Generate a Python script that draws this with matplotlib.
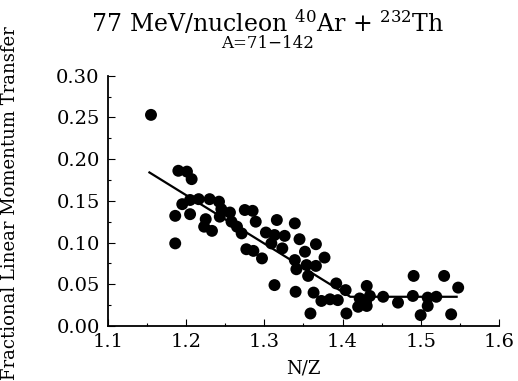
import matplotlib.pyplot as plt
from matplotlib.ticker import MultipleLocator, AutoMinorLocator

# N/Z and fractional linear momentum transfer
nz = [1.155, 1.190, 1.201, 1.207, 1.195, 1.205, 1.216, 1.186, 1.205, 1.186,
      1.230, 1.242, 1.245, 1.225, 1.223, 1.233, 1.243, 1.256, 1.258, 1.275,
      1.285, 1.289, 1.316, 1.339, 1.265, 1.271, 1.277, 1.286, 1.297, 1.302,
      1.313, 1.326, 1.309, 1.323, 1.345, 1.366, 1.352, 1.377, 1.339, 1.341,
      1.354, 1.366, 1.356, 1.313, 1.340, 1.363, 1.392, 1.404, 1.373, 1.384,
      1.394, 1.359, 1.405, 1.420, 1.431, 1.422, 1.430, 1.435, 1.431, 1.452,
      1.471, 1.491, 1.490, 1.509, 1.520, 1.509, 1.500, 1.530, 1.548, 1.539]
lmt = [0.253, 0.186, 0.185, 0.176, 0.146, 0.151, 0.152, 0.132, 0.134, 0.099,
       0.152, 0.149, 0.140, 0.128, 0.119, 0.114, 0.131, 0.136, 0.125, 0.139,
       0.138, 0.125, 0.127, 0.123, 0.119, 0.111, 0.092, 0.090, 0.081, 0.112,
       0.109, 0.108, 0.099, 0.093, 0.104, 0.098, 0.089, 0.082, 0.079, 0.068,
       0.073, 0.072, 0.060, 0.049, 0.041, 0.040, 0.051, 0.043, 0.030, 0.032,
       0.031, 0.015, 0.015, 0.023, 0.048, 0.033, 0.029, 0.036, 0.024, 0.035,
       0.028, 0.060, 0.036, 0.034, 0.035, 0.024, 0.013, 0.060, 0.046, 0.014]

# fitted trend (two straight segments)
fit_x = [1.153, 1.41, 1.546]
fit_y = [0.184, 0.035, 0.035]

plt.rcParams['font.family'] = 'DejaVu Serif'
plt.rcParams['mathtext.fontset'] = 'dejavuserif'

fig = plt.figure(figsize=(5.18, 3.81), dpi=100)
ax = fig.add_axes([0.2085, 0.1444, 0.7545, 0.657])

ax.scatter(nz, lmt, s=74, c='black', edgecolors='none', zorder=3)
ax.plot(fit_x, fit_y, c='black', lw=1.6, zorder=2)

ax.set_xlim(1.1, 1.6)
ax.set_ylim(0.0, 0.30)
ax.xaxis.set_major_locator(MultipleLocator(0.1))
ax.yaxis.set_major_locator(MultipleLocator(0.05))
ax.xaxis.set_minor_locator(AutoMinorLocator(2))
ax.yaxis.set_minor_locator(AutoMinorLocator(2))
ax.xaxis.set_major_formatter(plt.FuncFormatter(lambda v, p: '%.1f' % v))
ax.yaxis.set_major_formatter(plt.FuncFormatter(lambda v, p: '%.2f' % v))

ax.spines['top'].set_visible(False)
ax.spines['right'].set_visible(False)
ax.spines['left'].set_linewidth(1.3)
ax.spines['bottom'].set_linewidth(1.3)
ax.tick_params(which='both', direction='in', labelsize=14, width=0.8)
ax.tick_params(which='major', length=5)
ax.tick_params(which='minor', length=2.5)
ax.tick_params(axis='x', pad=5)
ax.tick_params(axis='y', pad=6)

ax.set_xlabel('N/Z', fontsize=13, labelpad=6)
ax.set_ylabel('Fractional Linear Momentum Transfer', fontsize=13)
ax.yaxis.set_label_coords(-0.228, 0.49)

fig.text(0.517, 0.942, r'77 MeV/nucleon $^{40}$Ar + $^{232}$Th', fontsize=17,
         ha='center', va='center')
fig.text(0.517, 0.887, 'A=71\u2212142', fontsize=12, ha='center', va='center')

fig.savefig('out.png', dpi=100)
